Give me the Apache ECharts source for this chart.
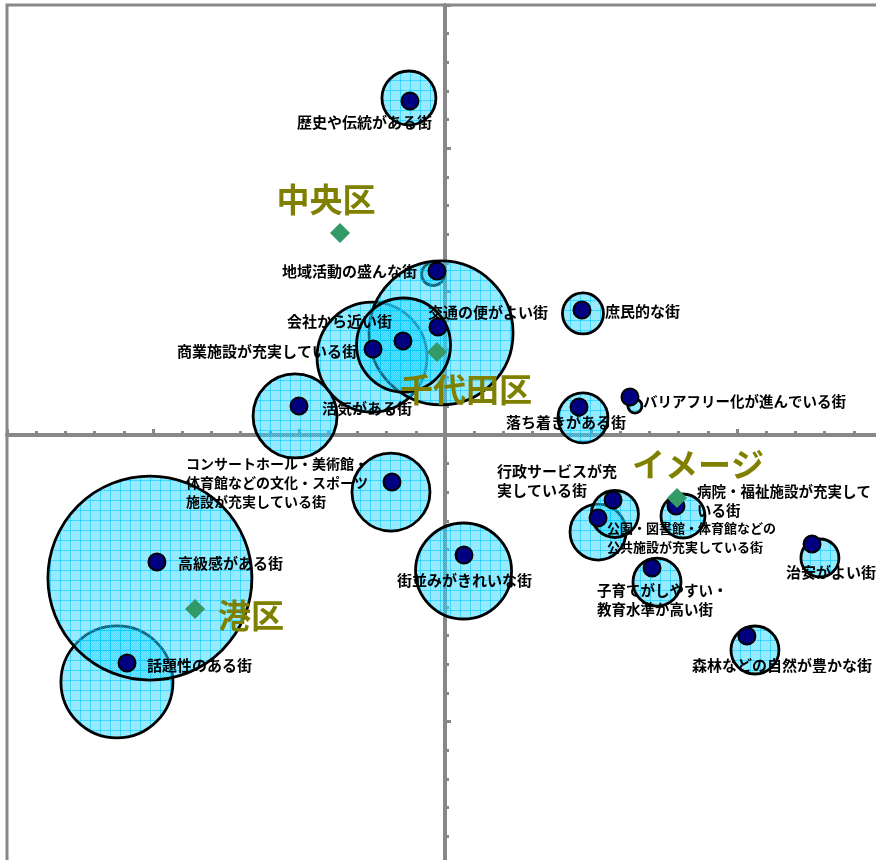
<!DOCTYPE html>
<html><head><meta charset="utf-8">
<script src="https://cdn.jsdelivr.net/npm/echarts@6/dist/echarts.min.js"></script>
<style>html,body{margin:0;padding:0;background:#fff}#c{width:876px;height:860px}</style>
</head><body><div id="c"></div>
<script>
// ---- data ----
const items = [
  '歴史や伝統がある街',
  '地域活動の盛んな街',
  '商業施設が充実している街',
  '交通の便がよい街',
  '会社から近い街',
  '活気がある街',
  '庶民的な街',
  'バリアフリー化が進んでいる街',
  '落ち着きがある街',
  'コンサートホール・美術館・\n体育館などの文化・スポーツ\n施設が充実している街',
  '公園・図書館・体育館などの\n公共施設が充実している街',
  '行政サービスが充\n実している街',
  '病院・福祉施設が充実して\nいる街',
  '治安がよい街',
  '子育てがしやすい・\n教育水準が高い街',
  '街並みがきれいな街',
  '話題性のある街',
  '高級感がある街',
  '森林などの自然が豊かな街'
];
const dotX = [-0.240, -0.055, -0.493, -0.048, -0.288, -1.000, 0.938, 1.267, 0.918, -0.363, 1.048, 1.151, 1.582, 2.514, 1.418, 0.130, -2.178, -1.973, 2.068];
const dotY = [2.330, 1.144, 0.600, 0.754, 0.656, 0.202, 0.872, 0.265, 0.195, -0.328, -0.579, -0.453, -0.495, -0.760, -0.928, -0.837, -1.591, -0.886, -1.402];
const bubbleX = [-0.247, -0.082, -0.500, -0.027, -0.284, -1.027, 0.945, 1.301, 0.945, -0.370, 1.048, 1.164, 1.630, 2.568, 1.452, 0.127, -2.247, -2.021, 2.123];
const bubbleY = [2.351, 1.123, 0.544, 0.712, 0.628, 0.133, 0.848, 0.202, 0.119, -0.398, -0.677, -0.551, -0.565, -0.858, -1.026, -0.949, -1.723, -0.998, -1.500];
const bubbleSize = [54, 23, 110, 144, 94, 84, 41, 14, 50, 78, 56, 47, 44, 38, 48, 96, 112, 204, 48];

const wards = ['中央区', '千代田区', '港区', 'イメージ'];
const wardX = [-0.719, -0.055, -1.712, 1.589];
const wardY = [1.409, 0.579, -1.214, -0.440];

// ---- label layout (style only) ----
const labelAlign = ['right','right','right','left','right','left','left','left','center','left','left','left','left','left','left','left','left','left','left'];
const labelOffset = [[22,21],[-20,0],[-16,2],[-10,-15],[-11,-20],[23,2],[23,1],[13,4],[-13,15],[-206,1],[9,20],[-116,-19],[21,-5],[-26,28],[-55,32],[-67,25],[20,2],[21,1],[-55,29]];
const labelFontSize = [15,15,15,15,15,15,15,14.5,15,14,13,15,14.5,15,14.5,15,15,15,15];
const wardOffset = [[-14,-34],[29,37],[56,6],[21,-34]];

// ---- pattern fill ----
function makePattern() {
  const cv = document.createElement('canvas');
  cv.width = 10; cv.height = 10;
  const ctx = cv.getContext('2d');
  ctx.fillStyle = 'rgba(0,204,255,0.45)';
  ctx.fillRect(0, 0, 10, 10);
  ctx.fillStyle = 'rgba(255,255,255,0.18)';
  for (let y = 0; y < 10; y++) for (let x = 0; x < 10; x++) if ((x + y) % 2 === 0) ctx.fillRect(x, y, 1, 1);
  ctx.clearRect(0, 0, 10, 1);
  ctx.clearRect(0, 0, 1, 10);
  ctx.fillStyle = 'rgba(0,200,255,0.75)';
  ctx.fillRect(0, 0, 10, 1);
  ctx.fillRect(0, 0, 1, 10);
  return cv;
}
const patternCanvas = makePattern();

const FONT = "'Noto Sans CJK JP', 'Noto Sans', sans-serif";
const chart = echarts.init(document.getElementById('c'), null, {renderer: 'canvas'});

const axisCommon = {
  type: 'value', min: -3, max: 3, interval: 1,
  axisLine: {onZero: true, lineStyle: {color: '#888', width: 4}},
  axisTick: {show: true, inside: true, length: 6, lineStyle: {color: '#888', width: 3}},
  minorTick: {show: true, splitNumber: 5, length: 4, lineStyle: {color: '#888', width: 3}},
  axisLabel: {show: false},
  splitLine: {show: false}
};

chart.setOption({
  animation: false,
  backgroundColor: '#fff',
  grid: {left: 7, top: 5, width: 876, height: 860, show: true, borderColor: '#888', borderWidth: 3, containLabel: false, outerBoundsMode: 'none'},
  xAxis: Object.assign({}, axisCommon),
  yAxis: Object.assign({}, axisCommon),
  series: [
    {
      type: 'custom', z: 2, silent: true,
      data: bubbleX.map((x, i) => [x, bubbleY[i], bubbleSize[i]]),
      renderItem: function (params, api) {
        const c = api.coord([api.value(0), api.value(1)]);
        return {
          type: 'circle',
          shape: {cx: c[0], cy: c[1], r: api.value(2) / 2},
          style: {fill: {image: patternCanvas, repeat: 'repeat'}, stroke: '#000', lineWidth: 2.8}
        };
      }
    },
    {
      type: 'scatter', z: 3, silent: true,
      symbolSize: 17,
      itemStyle: {color: '#000080', borderColor: '#000', borderWidth: 2, opacity: 1},
      emphasis: {disabled: true},
      data: items.map((name, i) => ({
        name: name,
        value: [dotX[i], dotY[i]],
        label: {
          show: true, position: 'inside', formatter: '{b}',
          align: labelAlign[i], verticalAlign: 'middle', offset: labelOffset[i],
          color: '#000', fontSize: labelFontSize[i], fontWeight: 'bold', fontFamily: FONT, lineHeight: 19
        }
      }))
    },
    {
      type: 'scatter', z: 4, silent: true,
      symbol: 'diamond', symbolSize: 20,
      itemStyle: {color: '#339966', opacity: 1},
      emphasis: {disabled: true},
      data: wards.map((name, i) => ({
        name: name,
        value: [wardX[i], wardY[i]],
        label: {
          show: true, position: 'inside', formatter: '{b}',
          align: 'center', verticalAlign: 'middle', offset: wardOffset[i],
          color: '#808000', fontSize: 33, fontWeight: 'bold', fontFamily: FONT
        }
      }))
    }
  ]
});
</script>
</body></html>
